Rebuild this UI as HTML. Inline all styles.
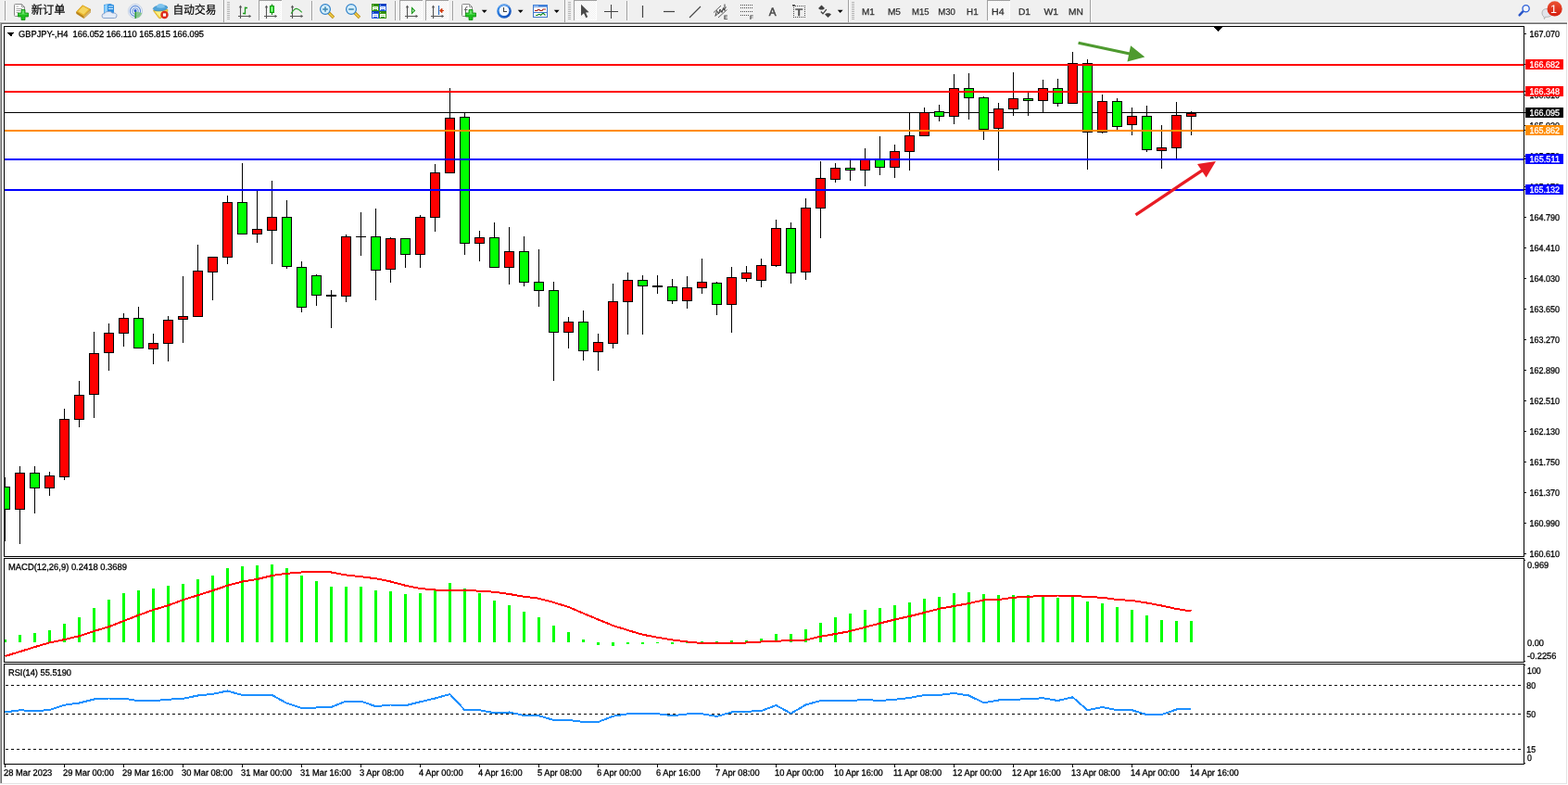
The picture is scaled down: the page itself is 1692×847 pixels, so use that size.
<!DOCTYPE html>
<html lang="zh"><head><meta charset="utf-8"><title>GBPJPY-,H4</title>
<style>
html,body{margin:0;padding:0;background:#fff;overflow:hidden}
svg{display:block;font-family:"Liberation Sans","Noto Sans CJK SC",sans-serif;text-rendering:geometricPrecision}
</style></head><body>
<svg width="1692" height="847" viewBox="0 0 1692 847" shape-rendering="crispEdges">
<defs><pattern id="chk" width="2" height="2" patternUnits="userSpaceOnUse"><rect width="2" height="2" fill="#f0f0f0"/><rect width="1" height="1" fill="#fff"/><rect x="1" y="1" width="1" height="1" fill="#fff"/></pattern><clipPath id="cm"><rect x="5" y="29" width="1639" height="571"/></clipPath></defs>
<rect x="0" y="0" width="1692" height="847" fill="#fff"/>
<rect x="0" y="0" width="1692" height="24" fill="#f0f0f0"/>
<rect x="0" y="23" width="1692" height="1" fill="#f6f6f6"/>
<rect x="0" y="24" width="1691" height="1" fill="#a8a8a8"/>
<rect x="0" y="25" width="1691" height="1" fill="#6c6c6c"/>
<rect x="0" y="25" width="1" height="821" fill="#a8a8a8"/>
<rect x="1" y="26" width="1" height="820" fill="#6c6c6c"/>
<rect x="1690" y="26" width="1" height="820" fill="#e3e3e3"/>
<rect x="0" y="845" width="1691" height="1" fill="#e3e3e3"/>
<rect x="4.5" y="28.5" width="1640" height="572" fill="#fff" stroke="#000" stroke-width="1"/>
<rect x="4.5" y="602.5" width="1640" height="112" fill="#fff" stroke="#000" stroke-width="1"/>
<rect x="4.5" y="716.5" width="1640" height="108" fill="#fff" stroke="#000" stroke-width="1"/>
<g clip-path="url(#cm)">
<rect x="5" y="121" width="1639" height="1" fill="#000"/>
<rect x="5" y="515" width="1" height="69" fill="#000"/>
<rect x="0" y="525" width="11" height="25" fill="#000"/>
<rect x="1" y="526" width="9" height="23" fill="#00ff00"/>
<rect x="21" y="503" width="1" height="84" fill="#000"/>
<rect x="16" y="510" width="11" height="40" fill="#000"/>
<rect x="17" y="511" width="9" height="38" fill="#ff0000"/>
<rect x="37" y="503" width="1" height="51" fill="#000"/>
<rect x="32" y="510" width="11" height="17" fill="#000"/>
<rect x="33" y="511" width="9" height="15" fill="#00ff00"/>
<rect x="53" y="509" width="1" height="26" fill="#000"/>
<rect x="48" y="513" width="11" height="14" fill="#000"/>
<rect x="49" y="514" width="9" height="12" fill="#ff0000"/>
<rect x="69" y="441" width="1" height="77" fill="#000"/>
<rect x="64" y="452" width="11" height="63" fill="#000"/>
<rect x="65" y="453" width="9" height="61" fill="#ff0000"/>
<rect x="85" y="411" width="1" height="50" fill="#000"/>
<rect x="80" y="426" width="11" height="27" fill="#000"/>
<rect x="81" y="427" width="9" height="25" fill="#ff0000"/>
<rect x="101" y="358" width="1" height="93" fill="#000"/>
<rect x="96" y="381" width="11" height="45" fill="#000"/>
<rect x="97" y="382" width="9" height="43" fill="#ff0000"/>
<rect x="117" y="349" width="1" height="51" fill="#000"/>
<rect x="112" y="359" width="11" height="22" fill="#000"/>
<rect x="113" y="360" width="9" height="20" fill="#ff0000"/>
<rect x="133" y="338" width="1" height="36" fill="#000"/>
<rect x="128" y="343" width="11" height="17" fill="#000"/>
<rect x="129" y="344" width="9" height="15" fill="#ff0000"/>
<rect x="149" y="331" width="1" height="45" fill="#000"/>
<rect x="144" y="343" width="11" height="33" fill="#000"/>
<rect x="145" y="344" width="9" height="31" fill="#00ff00"/>
<rect x="165" y="360" width="1" height="33" fill="#000"/>
<rect x="160" y="370" width="11" height="7" fill="#000"/>
<rect x="161" y="371" width="9" height="5" fill="#ff0000"/>
<rect x="181" y="341" width="1" height="49" fill="#000"/>
<rect x="176" y="345" width="11" height="26" fill="#000"/>
<rect x="177" y="346" width="9" height="24" fill="#ff0000"/>
<rect x="197" y="298" width="1" height="72" fill="#000"/>
<rect x="192" y="341" width="11" height="4" fill="#000"/>
<rect x="193" y="342" width="9" height="2" fill="#ff0000"/>
<rect x="213" y="264" width="1" height="78" fill="#000"/>
<rect x="208" y="292" width="11" height="50" fill="#000"/>
<rect x="209" y="293" width="9" height="48" fill="#ff0000"/>
<rect x="229" y="277" width="1" height="47" fill="#000"/>
<rect x="224" y="277" width="11" height="17" fill="#000"/>
<rect x="225" y="278" width="9" height="15" fill="#ff0000"/>
<rect x="245" y="211" width="1" height="74" fill="#000"/>
<rect x="240" y="218" width="11" height="60" fill="#000"/>
<rect x="241" y="219" width="9" height="58" fill="#ff0000"/>
<rect x="261" y="176" width="1" height="77" fill="#000"/>
<rect x="256" y="218" width="11" height="35" fill="#000"/>
<rect x="257" y="219" width="9" height="33" fill="#00ff00"/>
<rect x="277" y="205" width="1" height="57" fill="#000"/>
<rect x="272" y="247" width="11" height="6" fill="#000"/>
<rect x="273" y="248" width="9" height="4" fill="#ff0000"/>
<rect x="293" y="195" width="1" height="90" fill="#000"/>
<rect x="288" y="234" width="11" height="15" fill="#000"/>
<rect x="289" y="235" width="9" height="13" fill="#ff0000"/>
<rect x="309" y="216" width="1" height="74" fill="#000"/>
<rect x="304" y="234" width="11" height="54" fill="#000"/>
<rect x="305" y="235" width="9" height="52" fill="#00ff00"/>
<rect x="325" y="282" width="1" height="55" fill="#000"/>
<rect x="320" y="288" width="11" height="44" fill="#000"/>
<rect x="321" y="289" width="9" height="42" fill="#00ff00"/>
<rect x="341" y="296" width="1" height="34" fill="#000"/>
<rect x="336" y="297" width="11" height="22" fill="#000"/>
<rect x="337" y="298" width="9" height="20" fill="#00ff00"/>
<rect x="357" y="313" width="1" height="41" fill="#000"/>
<rect x="352" y="318" width="11" height="2" fill="#000"/>
<rect x="373" y="253" width="1" height="73" fill="#000"/>
<rect x="368" y="255" width="11" height="65" fill="#000"/>
<rect x="369" y="256" width="9" height="63" fill="#ff0000"/>
<rect x="389" y="229" width="1" height="47" fill="#000"/>
<rect x="384" y="255" width="11" height="1" fill="#000"/>
<rect x="405" y="225" width="1" height="99" fill="#000"/>
<rect x="400" y="255" width="11" height="37" fill="#000"/>
<rect x="401" y="256" width="9" height="35" fill="#00ff00"/>
<rect x="421" y="256" width="1" height="49" fill="#000"/>
<rect x="416" y="257" width="11" height="34" fill="#000"/>
<rect x="417" y="258" width="9" height="32" fill="#ff0000"/>
<rect x="437" y="257" width="1" height="32" fill="#000"/>
<rect x="432" y="257" width="11" height="18" fill="#000"/>
<rect x="433" y="258" width="9" height="16" fill="#00ff00"/>
<rect x="453" y="232" width="1" height="57" fill="#000"/>
<rect x="448" y="234" width="11" height="41" fill="#000"/>
<rect x="449" y="235" width="9" height="39" fill="#ff0000"/>
<rect x="469" y="177" width="1" height="73" fill="#000"/>
<rect x="464" y="186" width="11" height="49" fill="#000"/>
<rect x="465" y="187" width="9" height="47" fill="#ff0000"/>
<rect x="485" y="95" width="1" height="92" fill="#000"/>
<rect x="480" y="127" width="11" height="60" fill="#000"/>
<rect x="481" y="128" width="9" height="58" fill="#ff0000"/>
<rect x="501" y="121" width="1" height="154" fill="#000"/>
<rect x="496" y="126" width="11" height="137" fill="#000"/>
<rect x="497" y="127" width="9" height="135" fill="#00ff00"/>
<rect x="517" y="249" width="1" height="33" fill="#000"/>
<rect x="512" y="256" width="11" height="7" fill="#000"/>
<rect x="513" y="257" width="9" height="5" fill="#ff0000"/>
<rect x="533" y="240" width="1" height="49" fill="#000"/>
<rect x="528" y="256" width="11" height="33" fill="#000"/>
<rect x="529" y="257" width="9" height="31" fill="#00ff00"/>
<rect x="549" y="245" width="1" height="62" fill="#000"/>
<rect x="544" y="271" width="11" height="18" fill="#000"/>
<rect x="545" y="272" width="9" height="16" fill="#ff0000"/>
<rect x="565" y="255" width="1" height="54" fill="#000"/>
<rect x="560" y="271" width="11" height="34" fill="#000"/>
<rect x="561" y="272" width="9" height="32" fill="#00ff00"/>
<rect x="581" y="269" width="1" height="62" fill="#000"/>
<rect x="576" y="304" width="11" height="10" fill="#000"/>
<rect x="577" y="305" width="9" height="8" fill="#00ff00"/>
<rect x="597" y="304" width="1" height="107" fill="#000"/>
<rect x="592" y="313" width="11" height="46" fill="#000"/>
<rect x="593" y="314" width="9" height="44" fill="#00ff00"/>
<rect x="613" y="342" width="1" height="34" fill="#000"/>
<rect x="608" y="347" width="11" height="12" fill="#000"/>
<rect x="609" y="348" width="9" height="10" fill="#ff0000"/>
<rect x="629" y="335" width="1" height="54" fill="#000"/>
<rect x="624" y="347" width="11" height="32" fill="#000"/>
<rect x="625" y="348" width="9" height="30" fill="#00ff00"/>
<rect x="645" y="360" width="1" height="40" fill="#000"/>
<rect x="640" y="369" width="11" height="11" fill="#000"/>
<rect x="641" y="370" width="9" height="9" fill="#ff0000"/>
<rect x="661" y="306" width="1" height="70" fill="#000"/>
<rect x="656" y="325" width="11" height="46" fill="#000"/>
<rect x="657" y="326" width="9" height="44" fill="#ff0000"/>
<rect x="677" y="294" width="1" height="67" fill="#000"/>
<rect x="672" y="302" width="11" height="24" fill="#000"/>
<rect x="673" y="303" width="9" height="22" fill="#ff0000"/>
<rect x="693" y="297" width="1" height="64" fill="#000"/>
<rect x="688" y="302" width="11" height="7" fill="#000"/>
<rect x="689" y="303" width="9" height="5" fill="#00ff00"/>
<rect x="709" y="297" width="1" height="20" fill="#000"/>
<rect x="704" y="308" width="11" height="2" fill="#000"/>
<rect x="725" y="301" width="1" height="27" fill="#000"/>
<rect x="720" y="309" width="11" height="16" fill="#000"/>
<rect x="721" y="310" width="9" height="14" fill="#00ff00"/>
<rect x="741" y="298" width="1" height="35" fill="#000"/>
<rect x="736" y="310" width="11" height="15" fill="#000"/>
<rect x="737" y="311" width="9" height="13" fill="#ff0000"/>
<rect x="757" y="279" width="1" height="38" fill="#000"/>
<rect x="752" y="304" width="11" height="7" fill="#000"/>
<rect x="753" y="305" width="9" height="5" fill="#ff0000"/>
<rect x="773" y="304" width="1" height="36" fill="#000"/>
<rect x="768" y="305" width="11" height="24" fill="#000"/>
<rect x="769" y="306" width="9" height="22" fill="#00ff00"/>
<rect x="789" y="288" width="1" height="71" fill="#000"/>
<rect x="784" y="299" width="11" height="30" fill="#000"/>
<rect x="785" y="300" width="9" height="28" fill="#ff0000"/>
<rect x="805" y="287" width="1" height="17" fill="#000"/>
<rect x="800" y="294" width="11" height="7" fill="#000"/>
<rect x="801" y="295" width="9" height="5" fill="#ff0000"/>
<rect x="821" y="279" width="1" height="31" fill="#000"/>
<rect x="816" y="286" width="11" height="17" fill="#000"/>
<rect x="817" y="287" width="9" height="15" fill="#ff0000"/>
<rect x="837" y="237" width="1" height="51" fill="#000"/>
<rect x="832" y="246" width="11" height="41" fill="#000"/>
<rect x="833" y="247" width="9" height="39" fill="#ff0000"/>
<rect x="853" y="240" width="1" height="66" fill="#000"/>
<rect x="848" y="246" width="11" height="49" fill="#000"/>
<rect x="849" y="247" width="9" height="47" fill="#00ff00"/>
<rect x="869" y="214" width="1" height="88" fill="#000"/>
<rect x="864" y="224" width="11" height="70" fill="#000"/>
<rect x="865" y="225" width="9" height="68" fill="#ff0000"/>
<rect x="885" y="174" width="1" height="83" fill="#000"/>
<rect x="880" y="192" width="11" height="33" fill="#000"/>
<rect x="881" y="193" width="9" height="31" fill="#ff0000"/>
<rect x="901" y="176" width="1" height="21" fill="#000"/>
<rect x="896" y="181" width="11" height="13" fill="#000"/>
<rect x="897" y="182" width="9" height="11" fill="#ff0000"/>
<rect x="917" y="173" width="1" height="22" fill="#000"/>
<rect x="912" y="181" width="11" height="3" fill="#000"/>
<rect x="913" y="182" width="9" height="1" fill="#00ff00"/>
<rect x="933" y="160" width="1" height="41" fill="#000"/>
<rect x="928" y="172" width="11" height="12" fill="#000"/>
<rect x="929" y="173" width="9" height="10" fill="#ff0000"/>
<rect x="949" y="147" width="1" height="42" fill="#000"/>
<rect x="944" y="172" width="11" height="9" fill="#000"/>
<rect x="945" y="173" width="9" height="7" fill="#00ff00"/>
<rect x="965" y="156" width="1" height="36" fill="#000"/>
<rect x="960" y="163" width="11" height="18" fill="#000"/>
<rect x="961" y="164" width="9" height="16" fill="#ff0000"/>
<rect x="981" y="121" width="1" height="63" fill="#000"/>
<rect x="976" y="146" width="11" height="18" fill="#000"/>
<rect x="977" y="147" width="9" height="16" fill="#ff0000"/>
<rect x="997" y="116" width="1" height="31" fill="#000"/>
<rect x="992" y="121" width="11" height="26" fill="#000"/>
<rect x="993" y="122" width="9" height="24" fill="#ff0000"/>
<rect x="1013" y="113" width="1" height="18" fill="#000"/>
<rect x="1008" y="120" width="11" height="6" fill="#000"/>
<rect x="1009" y="121" width="9" height="4" fill="#00ff00"/>
<rect x="1029" y="80" width="1" height="54" fill="#000"/>
<rect x="1024" y="95" width="11" height="31" fill="#000"/>
<rect x="1025" y="96" width="9" height="29" fill="#ff0000"/>
<rect x="1045" y="79" width="1" height="50" fill="#000"/>
<rect x="1040" y="95" width="11" height="11" fill="#000"/>
<rect x="1041" y="96" width="9" height="9" fill="#00ff00"/>
<rect x="1061" y="104" width="1" height="47" fill="#000"/>
<rect x="1056" y="105" width="11" height="35" fill="#000"/>
<rect x="1057" y="106" width="9" height="33" fill="#00ff00"/>
<rect x="1077" y="111" width="1" height="73" fill="#000"/>
<rect x="1072" y="117" width="11" height="22" fill="#000"/>
<rect x="1073" y="118" width="9" height="20" fill="#ff0000"/>
<rect x="1093" y="78" width="1" height="47" fill="#000"/>
<rect x="1088" y="106" width="11" height="12" fill="#000"/>
<rect x="1089" y="107" width="9" height="10" fill="#ff0000"/>
<rect x="1109" y="100" width="1" height="25" fill="#000"/>
<rect x="1104" y="106" width="11" height="3" fill="#000"/>
<rect x="1105" y="107" width="9" height="1" fill="#00ff00"/>
<rect x="1125" y="86" width="1" height="36" fill="#000"/>
<rect x="1120" y="95" width="11" height="14" fill="#000"/>
<rect x="1121" y="96" width="9" height="12" fill="#ff0000"/>
<rect x="1141" y="85" width="1" height="30" fill="#000"/>
<rect x="1136" y="95" width="11" height="17" fill="#000"/>
<rect x="1137" y="96" width="9" height="15" fill="#00ff00"/>
<rect x="1157" y="56" width="1" height="56" fill="#000"/>
<rect x="1152" y="68" width="11" height="44" fill="#000"/>
<rect x="1153" y="69" width="9" height="42" fill="#ff0000"/>
<rect x="1173" y="64" width="1" height="119" fill="#000"/>
<rect x="1168" y="68" width="11" height="75" fill="#000"/>
<rect x="1169" y="69" width="9" height="73" fill="#00ff00"/>
<rect x="1189" y="102" width="1" height="42" fill="#000"/>
<rect x="1184" y="109" width="11" height="34" fill="#000"/>
<rect x="1185" y="110" width="9" height="32" fill="#ff0000"/>
<rect x="1205" y="106" width="1" height="34" fill="#000"/>
<rect x="1200" y="109" width="11" height="28" fill="#000"/>
<rect x="1201" y="110" width="9" height="26" fill="#00ff00"/>
<rect x="1221" y="116" width="1" height="30" fill="#000"/>
<rect x="1216" y="125" width="11" height="10" fill="#000"/>
<rect x="1217" y="126" width="9" height="8" fill="#ff0000"/>
<rect x="1237" y="114" width="1" height="50" fill="#000"/>
<rect x="1232" y="125" width="11" height="37" fill="#000"/>
<rect x="1233" y="126" width="9" height="35" fill="#00ff00"/>
<rect x="1253" y="135" width="1" height="47" fill="#000"/>
<rect x="1248" y="159" width="11" height="4" fill="#000"/>
<rect x="1249" y="160" width="9" height="2" fill="#ff0000"/>
<rect x="1269" y="110" width="1" height="62" fill="#000"/>
<rect x="1264" y="124" width="11" height="36" fill="#000"/>
<rect x="1265" y="125" width="9" height="34" fill="#ff0000"/>
<rect x="1285" y="120" width="1" height="26" fill="#000"/>
<rect x="1280" y="122" width="11" height="4" fill="#000"/>
<rect x="1281" y="123" width="9" height="2" fill="#ff0000"/>
</g>
<rect x="5" y="69" width="1639" height="2" fill="#ff0000"/>
<rect x="5" y="98" width="1639" height="2" fill="#ff0000"/>
<rect x="5" y="140" width="1639" height="2" fill="#ff8c00"/>
<rect x="5" y="171" width="1639" height="2" fill="#0000ff"/>
<rect x="5" y="204" width="1639" height="2" fill="#0000ff"/>
<line x1="1163.6" y1="46.3" x2="1220.2" y2="58.2" stroke="#4e9a2f" stroke-width="3.1" shape-rendering="geometricPrecision"/>
<polygon points="1235.3,61.4 1216.5,66.4 1220.1,49.2" fill="#4e9a2f" shape-rendering="geometricPrecision"/>
<line x1="1225.5" y1="231.8" x2="1298.4" y2="183.1" stroke="#e81c24" stroke-width="3.3" shape-rendering="geometricPrecision"/>
<polygon points="1312.0,174.0 1301.6,191.4 1292.0,176.9" fill="#e81c24" shape-rendering="geometricPrecision"/>
<polygon points="1309,29 1319,29 1314,34" fill="#000"/>
<polygon points="8,35 15.5,35 11.75,39.5" fill="#000"/>
<text x="20" y="40" font-size="9.8" fill="#000" stroke="#000" stroke-width="0.3" textLength="200.0" lengthAdjust="spacingAndGlyphs">GBPJPY-,H4&#160; 166.052 166.110 165.815 166.095</text>
<rect x="1645" y="36" width="2" height="1" fill="#000"/>
<text x="1650.5" y="40" font-size="9.8" fill="#000" stroke="#000" stroke-width="0.3" textLength="32.5" lengthAdjust="spacingAndGlyphs">167.070</text>
<rect x="1645" y="69" width="2" height="1" fill="#000"/>
<text x="1650.5" y="73" font-size="9.8" fill="#000" stroke="#000" stroke-width="0.3" textLength="32.5" lengthAdjust="spacingAndGlyphs">166.690</text>
<rect x="1645" y="102" width="2" height="1" fill="#000"/>
<text x="1650.5" y="106" font-size="9.8" fill="#000" stroke="#000" stroke-width="0.3" textLength="32.5" lengthAdjust="spacingAndGlyphs">166.310</text>
<rect x="1645" y="135" width="2" height="1" fill="#000"/>
<text x="1650.5" y="139" font-size="9.8" fill="#000" stroke="#000" stroke-width="0.3" textLength="32.5" lengthAdjust="spacingAndGlyphs">165.930</text>
<rect x="1645" y="168" width="2" height="1" fill="#000"/>
<text x="1650.5" y="172" font-size="9.8" fill="#000" stroke="#000" stroke-width="0.3" textLength="32.5" lengthAdjust="spacingAndGlyphs">165.550</text>
<rect x="1645" y="201" width="2" height="1" fill="#000"/>
<text x="1650.5" y="205" font-size="9.8" fill="#000" stroke="#000" stroke-width="0.3" textLength="32.5" lengthAdjust="spacingAndGlyphs">165.170</text>
<rect x="1645" y="234" width="2" height="1" fill="#000"/>
<text x="1650.5" y="238" font-size="9.8" fill="#000" stroke="#000" stroke-width="0.3" textLength="32.5" lengthAdjust="spacingAndGlyphs">164.790</text>
<rect x="1645" y="267" width="2" height="1" fill="#000"/>
<text x="1650.5" y="271" font-size="9.8" fill="#000" stroke="#000" stroke-width="0.3" textLength="32.5" lengthAdjust="spacingAndGlyphs">164.410</text>
<rect x="1645" y="300" width="2" height="1" fill="#000"/>
<text x="1650.5" y="304" font-size="9.8" fill="#000" stroke="#000" stroke-width="0.3" textLength="32.5" lengthAdjust="spacingAndGlyphs">164.030</text>
<rect x="1645" y="333" width="2" height="1" fill="#000"/>
<text x="1650.5" y="337" font-size="9.8" fill="#000" stroke="#000" stroke-width="0.3" textLength="32.5" lengthAdjust="spacingAndGlyphs">163.650</text>
<rect x="1645" y="366" width="2" height="1" fill="#000"/>
<text x="1650.5" y="370" font-size="9.8" fill="#000" stroke="#000" stroke-width="0.3" textLength="32.5" lengthAdjust="spacingAndGlyphs">163.270</text>
<rect x="1645" y="399" width="2" height="1" fill="#000"/>
<text x="1650.5" y="403" font-size="9.8" fill="#000" stroke="#000" stroke-width="0.3" textLength="32.5" lengthAdjust="spacingAndGlyphs">162.890</text>
<rect x="1645" y="432" width="2" height="1" fill="#000"/>
<text x="1650.5" y="436" font-size="9.8" fill="#000" stroke="#000" stroke-width="0.3" textLength="32.5" lengthAdjust="spacingAndGlyphs">162.510</text>
<rect x="1645" y="465" width="2" height="1" fill="#000"/>
<text x="1650.5" y="469" font-size="9.8" fill="#000" stroke="#000" stroke-width="0.3" textLength="32.5" lengthAdjust="spacingAndGlyphs">162.130</text>
<rect x="1645" y="498" width="2" height="1" fill="#000"/>
<text x="1650.5" y="502" font-size="9.8" fill="#000" stroke="#000" stroke-width="0.3" textLength="32.5" lengthAdjust="spacingAndGlyphs">161.750</text>
<rect x="1645" y="531" width="2" height="1" fill="#000"/>
<text x="1650.5" y="535" font-size="9.8" fill="#000" stroke="#000" stroke-width="0.3" textLength="32.5" lengthAdjust="spacingAndGlyphs">161.370</text>
<rect x="1645" y="564" width="2" height="1" fill="#000"/>
<text x="1650.5" y="568" font-size="9.8" fill="#000" stroke="#000" stroke-width="0.3" textLength="32.5" lengthAdjust="spacingAndGlyphs">160.990</text>
<rect x="1645" y="597" width="2" height="1" fill="#000"/>
<text x="1650.5" y="601" font-size="9.8" fill="#000" stroke="#000" stroke-width="0.3" textLength="32.5" lengthAdjust="spacingAndGlyphs">160.610</text>
<rect x="1645" y="69" width="1" height="1" fill="#000"/>
<rect x="1646" y="64" width="41" height="11" fill="#ff0000"/>
<text x="1650.5" y="73" font-size="9.8" fill="#fff" stroke="#fff" stroke-width="0.3" textLength="32.5" lengthAdjust="spacingAndGlyphs">166.682</text>
<rect x="1645" y="98" width="1" height="1" fill="#000"/>
<rect x="1646" y="93" width="41" height="11" fill="#ff0000"/>
<text x="1650.5" y="102" font-size="9.8" fill="#fff" stroke="#fff" stroke-width="0.3" textLength="32.5" lengthAdjust="spacingAndGlyphs">166.348</text>
<rect x="1645" y="121" width="1" height="1" fill="#000"/>
<rect x="1646" y="116" width="41" height="11" fill="#000"/>
<text x="1650.5" y="125" font-size="9.8" fill="#fff" stroke="#fff" stroke-width="0.3" textLength="32.5" lengthAdjust="spacingAndGlyphs">166.095</text>
<rect x="1645" y="140" width="1" height="1" fill="#000"/>
<rect x="1646" y="135" width="41" height="11" fill="#ff8c00"/>
<text x="1650.5" y="144" font-size="9.8" fill="#fff" stroke="#fff" stroke-width="0.3" textLength="32.5" lengthAdjust="spacingAndGlyphs">165.862</text>
<rect x="1645" y="171" width="1" height="1" fill="#000"/>
<rect x="1646" y="166" width="41" height="11" fill="#0000ff"/>
<text x="1650.5" y="175" font-size="9.8" fill="#fff" stroke="#fff" stroke-width="0.3" textLength="32.5" lengthAdjust="spacingAndGlyphs">165.511</text>
<rect x="1645" y="204" width="1" height="1" fill="#000"/>
<rect x="1646" y="199" width="41" height="11" fill="#0000ff"/>
<text x="1650.5" y="208" font-size="9.8" fill="#fff" stroke="#fff" stroke-width="0.3" textLength="32.5" lengthAdjust="spacingAndGlyphs">165.132</text>
<rect x="5" y="690" width="2" height="3" fill="#00ff00"/>
<rect x="20" y="685" width="3" height="8" fill="#00ff00"/>
<rect x="36" y="683" width="3" height="10" fill="#00ff00"/>
<rect x="52" y="680" width="3" height="13" fill="#00ff00"/>
<rect x="68" y="673" width="3" height="20" fill="#00ff00"/>
<rect x="84" y="666" width="3" height="27" fill="#00ff00"/>
<rect x="100" y="656" width="3" height="37" fill="#00ff00"/>
<rect x="116" y="647" width="3" height="46" fill="#00ff00"/>
<rect x="132" y="640" width="3" height="53" fill="#00ff00"/>
<rect x="148" y="637" width="3" height="56" fill="#00ff00"/>
<rect x="164" y="635" width="3" height="58" fill="#00ff00"/>
<rect x="180" y="632" width="3" height="61" fill="#00ff00"/>
<rect x="196" y="630" width="3" height="63" fill="#00ff00"/>
<rect x="212" y="625" width="3" height="68" fill="#00ff00"/>
<rect x="228" y="621" width="3" height="72" fill="#00ff00"/>
<rect x="244" y="613" width="3" height="80" fill="#00ff00"/>
<rect x="260" y="611" width="3" height="82" fill="#00ff00"/>
<rect x="276" y="610" width="3" height="83" fill="#00ff00"/>
<rect x="292" y="609" width="3" height="84" fill="#00ff00"/>
<rect x="308" y="613" width="3" height="80" fill="#00ff00"/>
<rect x="324" y="621" width="3" height="72" fill="#00ff00"/>
<rect x="340" y="627" width="3" height="66" fill="#00ff00"/>
<rect x="356" y="633" width="3" height="60" fill="#00ff00"/>
<rect x="372" y="633" width="3" height="60" fill="#00ff00"/>
<rect x="388" y="633" width="3" height="60" fill="#00ff00"/>
<rect x="404" y="637" width="3" height="56" fill="#00ff00"/>
<rect x="420" y="638" width="3" height="55" fill="#00ff00"/>
<rect x="436" y="641" width="3" height="52" fill="#00ff00"/>
<rect x="452" y="640" width="3" height="53" fill="#00ff00"/>
<rect x="468" y="636" width="3" height="57" fill="#00ff00"/>
<rect x="484" y="629" width="3" height="64" fill="#00ff00"/>
<rect x="500" y="635" width="3" height="58" fill="#00ff00"/>
<rect x="516" y="640" width="3" height="53" fill="#00ff00"/>
<rect x="532" y="648" width="3" height="45" fill="#00ff00"/>
<rect x="548" y="653" width="3" height="40" fill="#00ff00"/>
<rect x="564" y="660" width="3" height="33" fill="#00ff00"/>
<rect x="580" y="666" width="3" height="27" fill="#00ff00"/>
<rect x="596" y="675" width="3" height="18" fill="#00ff00"/>
<rect x="612" y="682" width="3" height="11" fill="#00ff00"/>
<rect x="628" y="690" width="3" height="3" fill="#00ff00"/>
<rect x="644" y="693" width="3" height="3" fill="#00ff00"/>
<rect x="660" y="693" width="3" height="4" fill="#00ff00"/>
<rect x="676" y="693" width="3" height="2" fill="#00ff00"/>
<rect x="692" y="693" width="3" height="2" fill="#00ff00"/>
<rect x="708" y="693" width="3" height="1" fill="#00ff00"/>
<rect x="724" y="693" width="3" height="2" fill="#00ff00"/>
<rect x="740" y="693" width="3" height="1" fill="#00ff00"/>
<rect x="756" y="692" width="3" height="1" fill="#00ff00"/>
<rect x="772" y="692" width="3" height="1" fill="#00ff00"/>
<rect x="788" y="691" width="3" height="2" fill="#00ff00"/>
<rect x="804" y="691" width="3" height="2" fill="#00ff00"/>
<rect x="820" y="689" width="3" height="4" fill="#00ff00"/>
<rect x="836" y="684" width="3" height="9" fill="#00ff00"/>
<rect x="852" y="684" width="3" height="9" fill="#00ff00"/>
<rect x="868" y="679" width="3" height="14" fill="#00ff00"/>
<rect x="884" y="672" width="3" height="21" fill="#00ff00"/>
<rect x="900" y="666" width="3" height="27" fill="#00ff00"/>
<rect x="916" y="662" width="3" height="31" fill="#00ff00"/>
<rect x="932" y="658" width="3" height="35" fill="#00ff00"/>
<rect x="948" y="656" width="3" height="37" fill="#00ff00"/>
<rect x="964" y="653" width="3" height="40" fill="#00ff00"/>
<rect x="980" y="650" width="3" height="43" fill="#00ff00"/>
<rect x="996" y="646" width="3" height="47" fill="#00ff00"/>
<rect x="1012" y="644" width="3" height="49" fill="#00ff00"/>
<rect x="1028" y="640" width="3" height="53" fill="#00ff00"/>
<rect x="1044" y="639" width="3" height="54" fill="#00ff00"/>
<rect x="1060" y="641" width="3" height="52" fill="#00ff00"/>
<rect x="1076" y="642" width="3" height="51" fill="#00ff00"/>
<rect x="1092" y="642" width="3" height="51" fill="#00ff00"/>
<rect x="1108" y="642" width="3" height="51" fill="#00ff00"/>
<rect x="1124" y="642" width="3" height="51" fill="#00ff00"/>
<rect x="1140" y="645" width="3" height="48" fill="#00ff00"/>
<rect x="1156" y="642" width="3" height="51" fill="#00ff00"/>
<rect x="1172" y="649" width="3" height="44" fill="#00ff00"/>
<rect x="1188" y="651" width="3" height="42" fill="#00ff00"/>
<rect x="1204" y="655" width="3" height="38" fill="#00ff00"/>
<rect x="1220" y="658" width="3" height="35" fill="#00ff00"/>
<rect x="1236" y="664" width="3" height="29" fill="#00ff00"/>
<rect x="1252" y="669" width="3" height="24" fill="#00ff00"/>
<rect x="1268" y="670" width="3" height="23" fill="#00ff00"/>
<rect x="1284" y="670" width="3" height="23" fill="#00ff00"/>
<polyline points="5.5,708.00 21.5,703.10 37.5,698.10 53.5,693.40 69.5,690.10 85.5,686.25 101.5,681.00 117.5,676.25 133.5,670.00 149.5,663.75 165.5,658.00 181.5,653.25 197.5,647.25 213.5,642.25 229.5,637.25 245.5,631.75 261.5,627.50 277.5,625.00 293.5,621.00 309.5,618.75 325.5,617.50 341.5,617.00 357.5,617.50 373.5,620.50 389.5,622.25 405.5,624.25 421.5,627.50 437.5,631.75 453.5,635.00 469.5,636.50 485.5,636.50 501.5,636.75 517.5,637.75 533.5,638.75 549.5,641.00 565.5,643.75 581.5,645.75 597.5,650.00 613.5,655.00 629.5,661.75 645.5,668.50 661.5,675.00 677.5,680.00 693.5,684.75 709.5,687.75 725.5,690.50 741.5,692.50 757.5,694.00 773.5,694.00 789.5,694.00 805.5,693.50 821.5,692.50 837.5,691.75 853.5,691.00 869.5,690.50 885.5,686.75 901.5,684.00 917.5,681.00 933.5,676.75 949.5,672.50 965.5,668.50 981.5,665.00 997.5,661.00 1013.5,656.75 1029.5,654.00 1045.5,651.00 1061.5,647.50 1077.5,647.00 1093.5,644.75 1109.5,643.75 1125.5,643.00 1141.5,642.50 1157.5,642.75 1173.5,644.00 1189.5,644.75 1205.5,647.00 1221.5,648.00 1237.5,650.50 1253.5,653.50 1269.5,657.00 1285.5,659.50" fill="none" stroke="#ff0000" stroke-width="2" stroke-linejoin="round"/>
<text x="9" y="615" font-size="9.8" fill="#000" stroke="#000" stroke-width="0.3" textLength="128.0" lengthAdjust="spacingAndGlyphs">MACD(12,26,9) 0.2418 0.3689</text>
<rect x="1645" y="604" width="1" height="1" fill="#000"/>
<rect x="1645" y="713" width="1" height="1" fill="#000"/>
<rect x="1645" y="717" width="1" height="1" fill="#000"/>
<rect x="1645" y="823" width="1" height="1" fill="#000"/>
<text x="1648" y="613" font-size="9.8" fill="#000" stroke="#000" stroke-width="0.3" textLength="23.2" lengthAdjust="spacingAndGlyphs">0.969</text>
<text x="1648" y="697" font-size="9.8" fill="#000" stroke="#000" stroke-width="0.3" textLength="18.0" lengthAdjust="spacingAndGlyphs">0.00</text>
<text x="1648" y="711" font-size="9.8" fill="#000" stroke="#000" stroke-width="0.3" textLength="31.4" lengthAdjust="spacingAndGlyphs">-0.2256</text>
<line x1="6" y1="739.5" x2="1644" y2="739.5" stroke="#000" stroke-width="1" stroke-dasharray="3 3"/>
<line x1="6" y1="770.5" x2="1644" y2="770.5" stroke="#000" stroke-width="1" stroke-dasharray="3 3"/>
<line x1="6" y1="808.5" x2="1644" y2="808.5" stroke="#000" stroke-width="1" stroke-dasharray="3 3"/>
<polyline points="5.5,768.50 21.5,766.25 37.5,767.25 53.5,766.00 69.5,760.75 85.5,758.50 101.5,754.50 117.5,753.50 133.5,753.50 149.5,756.25 165.5,756.25 181.5,754.75 197.5,753.75 213.5,750.50 229.5,748.75 245.5,745.50 261.5,750.00 277.5,750.00 293.5,750.00 309.5,758.75 325.5,764.00 341.5,763.50 357.5,763.00 373.5,756.50 389.5,756.50 405.5,762.25 421.5,760.50 437.5,761.25 453.5,757.25 469.5,753.50 485.5,749.00 501.5,766.25 517.5,766.25 533.5,769.25 549.5,768.50 565.5,772.00 581.5,772.25 597.5,777.00 613.5,777.00 629.5,779.00 645.5,779.00 661.5,772.75 677.5,770.25 693.5,770.25 709.5,770.25 725.5,772.25 741.5,770.50 757.5,770.25 773.5,773.00 789.5,768.50 805.5,767.75 821.5,767.00 837.5,761.00 853.5,769.75 869.5,760.50 885.5,756.00 901.5,756.00 917.5,756.00 933.5,755.00 949.5,756.00 965.5,754.75 981.5,753.00 997.5,750.00 1013.5,750.00 1029.5,748.00 1045.5,750.50 1061.5,758.25 1077.5,755.50 1093.5,754.75 1109.5,754.25 1125.5,753.25 1141.5,756.00 1157.5,752.25 1173.5,766.25 1189.5,763.00 1205.5,766.25 1221.5,766.25 1237.5,771.10 1253.5,771.10 1269.5,765.50 1285.5,765.30" fill="none" stroke="#1e90ff" stroke-width="2" stroke-linejoin="round"/>
<text x="9" y="729" font-size="9.8" fill="#000" stroke="#000" stroke-width="0.3" textLength="68.0" lengthAdjust="spacingAndGlyphs">RSI(14) 55.5190</text>
<text x="1648" y="727" font-size="9.8" fill="#000" stroke="#000" stroke-width="0.3" textLength="14.7" lengthAdjust="spacingAndGlyphs">100</text>
<text x="1647.3" y="743" font-size="9.8" fill="#000" stroke="#000" stroke-width="0.3" textLength="9.8" lengthAdjust="spacingAndGlyphs">80</text>
<text x="1647.3" y="774" font-size="9.8" fill="#000" stroke="#000" stroke-width="0.3" textLength="9.8" lengthAdjust="spacingAndGlyphs">50</text>
<text x="1647.3" y="812" font-size="9.8" fill="#000" stroke="#000" stroke-width="0.3" textLength="9.8" lengthAdjust="spacingAndGlyphs">15</text>
<text x="1648" y="821" font-size="9.8" fill="#000" stroke="#000" stroke-width="0.3" textLength="4.9" lengthAdjust="spacingAndGlyphs">0</text>
<rect x="5" y="825" width="1" height="3" fill="#000"/>
<text x="4" y="837" font-size="9.8" fill="#000" stroke="#000" stroke-width="0.3" textLength="52.3" lengthAdjust="spacingAndGlyphs">28 Mar 2023</text>
<rect x="69" y="825" width="1" height="3" fill="#000"/>
<text x="68" y="837" font-size="9.8" fill="#000" stroke="#000" stroke-width="0.3" textLength="54.9" lengthAdjust="spacingAndGlyphs">29 Mar 00:00</text>
<rect x="133" y="825" width="1" height="3" fill="#000"/>
<text x="132" y="837" font-size="9.8" fill="#000" stroke="#000" stroke-width="0.3" textLength="54.9" lengthAdjust="spacingAndGlyphs">29 Mar 16:00</text>
<rect x="197" y="825" width="1" height="3" fill="#000"/>
<text x="196" y="837" font-size="9.8" fill="#000" stroke="#000" stroke-width="0.3" textLength="54.9" lengthAdjust="spacingAndGlyphs">30 Mar 08:00</text>
<rect x="261" y="825" width="1" height="3" fill="#000"/>
<text x="260" y="837" font-size="9.8" fill="#000" stroke="#000" stroke-width="0.3" textLength="54.9" lengthAdjust="spacingAndGlyphs">31 Mar 00:00</text>
<rect x="325" y="825" width="1" height="3" fill="#000"/>
<text x="324" y="837" font-size="9.8" fill="#000" stroke="#000" stroke-width="0.3" textLength="54.9" lengthAdjust="spacingAndGlyphs">31 Mar 16:00</text>
<rect x="389" y="825" width="1" height="3" fill="#000"/>
<text x="388" y="837" font-size="9.8" fill="#000" stroke="#000" stroke-width="0.3" textLength="47.6" lengthAdjust="spacingAndGlyphs">3 Apr 08:00</text>
<rect x="453" y="825" width="1" height="3" fill="#000"/>
<text x="452" y="837" font-size="9.8" fill="#000" stroke="#000" stroke-width="0.3" textLength="47.6" lengthAdjust="spacingAndGlyphs">4 Apr 00:00</text>
<rect x="517" y="825" width="1" height="3" fill="#000"/>
<text x="516" y="837" font-size="9.8" fill="#000" stroke="#000" stroke-width="0.3" textLength="47.6" lengthAdjust="spacingAndGlyphs">4 Apr 16:00</text>
<rect x="581" y="825" width="1" height="3" fill="#000"/>
<text x="580" y="837" font-size="9.8" fill="#000" stroke="#000" stroke-width="0.3" textLength="47.6" lengthAdjust="spacingAndGlyphs">5 Apr 08:00</text>
<rect x="645" y="825" width="1" height="3" fill="#000"/>
<text x="644" y="837" font-size="9.8" fill="#000" stroke="#000" stroke-width="0.3" textLength="47.6" lengthAdjust="spacingAndGlyphs">6 Apr 00:00</text>
<rect x="709" y="825" width="1" height="3" fill="#000"/>
<text x="708" y="837" font-size="9.8" fill="#000" stroke="#000" stroke-width="0.3" textLength="47.6" lengthAdjust="spacingAndGlyphs">6 Apr 16:00</text>
<rect x="773" y="825" width="1" height="3" fill="#000"/>
<text x="772" y="837" font-size="9.8" fill="#000" stroke="#000" stroke-width="0.3" textLength="47.6" lengthAdjust="spacingAndGlyphs">7 Apr 08:00</text>
<rect x="837" y="825" width="1" height="3" fill="#000"/>
<text x="836" y="837" font-size="9.8" fill="#000" stroke="#000" stroke-width="0.3" textLength="52.8" lengthAdjust="spacingAndGlyphs">10 Apr 00:00</text>
<rect x="901" y="825" width="1" height="3" fill="#000"/>
<text x="900" y="837" font-size="9.8" fill="#000" stroke="#000" stroke-width="0.3" textLength="52.8" lengthAdjust="spacingAndGlyphs">10 Apr 16:00</text>
<rect x="965" y="825" width="1" height="3" fill="#000"/>
<text x="964" y="837" font-size="9.8" fill="#000" stroke="#000" stroke-width="0.3" textLength="52.1" lengthAdjust="spacingAndGlyphs">11 Apr 08:00</text>
<rect x="1029" y="825" width="1" height="3" fill="#000"/>
<text x="1028" y="837" font-size="9.8" fill="#000" stroke="#000" stroke-width="0.3" textLength="52.8" lengthAdjust="spacingAndGlyphs">12 Apr 00:00</text>
<rect x="1093" y="825" width="1" height="3" fill="#000"/>
<text x="1092" y="837" font-size="9.8" fill="#000" stroke="#000" stroke-width="0.3" textLength="52.8" lengthAdjust="spacingAndGlyphs">12 Apr 16:00</text>
<rect x="1157" y="825" width="1" height="3" fill="#000"/>
<text x="1156" y="837" font-size="9.8" fill="#000" stroke="#000" stroke-width="0.3" textLength="52.8" lengthAdjust="spacingAndGlyphs">13 Apr 08:00</text>
<rect x="1221" y="825" width="1" height="3" fill="#000"/>
<text x="1220" y="837" font-size="9.8" fill="#000" stroke="#000" stroke-width="0.3" textLength="52.8" lengthAdjust="spacingAndGlyphs">14 Apr 00:00</text>
<rect x="1285" y="825" width="1" height="3" fill="#000"/>
<text x="1284" y="837" font-size="9.8" fill="#000" stroke="#000" stroke-width="0.3" textLength="52.8" lengthAdjust="spacingAndGlyphs">14 Apr 16:00</text>
<g shape-rendering="geometricPrecision">
<rect x="5" y="1" width="1" height="21" fill="#a0a0a0"/><rect x="6" y="1" width="1" height="21" fill="#f8f8f8"/>
<path d="M15.5,5.5 Q15.5,4.5 16.5,4.5 H23.5 L26.5,7.5 V16.5 Q26.5,17.5 25.5,17.5 H16.5 Q15.5,17.5 15.5,16.5 Z" fill="#ffffff" stroke="#8a8a8a"/>
<path d="M23.5,4.5 V7.5 H26.5" fill="none" stroke="#9a9a9a"/>
<path d="M17.5,7 H20 M17.5,9.5 H24 M17.5,11.5 H22 M17.5,13.5 H20" stroke="#a8a8a8" stroke-width="1" fill="none"/>
<path d="M23,10.5 H27 V14 H30.5 V18 H27 V21.5 H23 V18 H19.5 V14 H23 Z" fill="#1fc01f" stroke="#0a8c0a" stroke-width="0.8"/>
<path d="M23.8,11.3 H26.2 V14.8 H29.7 V15.6 H20.3 V14.8 H23.8 Z" fill="#7bea7b" opacity="0.8"/>
<text x="33.8" y="15.1" font-size="12.6" fill="#000" stroke="#000" stroke-width="0.2" textLength="36.6" lengthAdjust="spacingAndGlyphs">新订单</text>
<path d="M82,13 L89,5.5 L98,10 L97.5,13.5 L90.5,20 L82.5,15 Z" fill="#b8821a"/>
<path d="M82.5,12.5 L89.3,5.5 L97.5,10 L90.5,17.5 Z" fill="#e8b52e"/>
<path d="M84.5,12.3 L89.6,7 L95.5,10.2 L90.3,15.5 Z" fill="#f5d560"/>
<path d="M90.5,17.5 L97.5,10.5 L97.5,13.5 L90.5,20 Z" fill="#d9b56a"/>
<path d="M112,5 L119,4 L123,5.5 V14 H112 Z" fill="#2f8fe0"/>
<path d="M112.5,5.5 L116,5 V14 H112.5 Z" fill="#8fd0fa"/>
<path d="M117,7 H122 M117,9.5 H122" stroke="#d8efff" stroke-width="1.2"/>
<path d="M112,19.5 Q110,19.5 110,17 Q110,14.5 113,14.5 Q114,12 117,12.5 Q119,11.5 121,14 Q126,13.5 126,17 Q126,19.5 123.5,19.5 Z" fill="#e4ecf8" stroke="#7f9cc8" stroke-width="0.9"/>
<circle cx="146" cy="12" r="7.6" fill="#eef3fa" stroke="#b7c6e0" stroke-width="0.8"/>
<circle cx="146" cy="12" r="5.6" fill="none" stroke="#5d8ad6" stroke-width="1.1"/>
<circle cx="146" cy="12" r="3.3" fill="none" stroke="#6a96dc" stroke-width="1"/>
<path d="M146,12 L153.2,14 A7.6,7.6 0 0 1 146,19.6 Z" fill="#7cc47c" opacity="0.85"/>
<rect x="145.5" y="12" width="1.4" height="8" fill="#2f9a2f"/>
<circle cx="146" cy="11.5" r="1.5" fill="#2a5bd0"/>
<path d="M165.5,11.5 L181,10.5 L180.5,14 L173,19.8 L171.5,19.5 Z" fill="#f6d84a" stroke="#d4a017" stroke-width="0.8"/>
<path d="M167.5,12.5 L176,12 L172.5,18 Z" fill="#fbf08a"/>
<ellipse cx="173" cy="8.8" rx="7.8" ry="3" fill="#4fa3d8" stroke="#2f86bd" stroke-width="0.6" transform="rotate(-6 173 8.8)"/>
<path d="M169,8 Q169.5,3.8 173.5,4 Q177.3,4.2 178,8 Q173.5,9.6 169,8 Z" fill="#7fc4ee"/>
<circle cx="177.5" cy="16" r="4.2" fill="#dc2a1a"/>
<rect x="175.9" y="14.4" width="3.2" height="3.2" fill="#fff"/>
<text x="186.6" y="15.1" font-size="12.6" fill="#000" stroke="#000" stroke-width="0.2" textLength="46.8" lengthAdjust="spacingAndGlyphs">自动交易</text>
</g>
<rect x="241" y="0" width="1" height="24" fill="#a0a0a0"/><rect x="242" y="0" width="1" height="24" fill="#fafafa"/>
<rect x="245" y="2" width="3" height="1" fill="#b4b4b4"/>
<rect x="245" y="4" width="3" height="1" fill="#b4b4b4"/>
<rect x="245" y="6" width="3" height="1" fill="#b4b4b4"/>
<rect x="245" y="8" width="3" height="1" fill="#b4b4b4"/>
<rect x="245" y="10" width="3" height="1" fill="#b4b4b4"/>
<rect x="245" y="12" width="3" height="1" fill="#b4b4b4"/>
<rect x="245" y="14" width="3" height="1" fill="#b4b4b4"/>
<rect x="245" y="16" width="3" height="1" fill="#b4b4b4"/>
<rect x="245" y="18" width="3" height="1" fill="#b4b4b4"/>
<rect x="245" y="20" width="3" height="1" fill="#b4b4b4"/>
<g shape-rendering="geometricPrecision">
<g stroke="#555" stroke-width="1.1" fill="none"><path d="M259.5,7 V20 M257,17.5 H269.5"/></g>
<polygon points="259.5,5.6 257.8,8.2 261.2,8.2" fill="#555"/><polygon points="271.2,17.5 268.6,15.8 268.6,19.2" fill="#555"/>
<path d="M264.5,7.5 V15.5 M264.5,8.5 H267 M262,14.5 H264.5" stroke="#1c9a1c" stroke-width="1.3" fill="none"/>
</g>
<rect x="279" y="0" width="25" height="22" fill="url(#chk)"/>
<rect x="279" y="0" width="1" height="22" fill="#a0a0a0"/><rect x="279" y="0" width="25" height="1" fill="#a0a0a0"/>
<rect x="303" y="1" width="1" height="21" fill="#fff"/><rect x="280" y="21" width="24" height="1" fill="#fff"/>
<g shape-rendering="geometricPrecision">
<g stroke="#555" stroke-width="1.1" fill="none"><path d="M287.5,7 V20 M285,17.5 H297.5"/></g>
<polygon points="287.5,5.6 285.8,8.2 289.2,8.2" fill="#555"/><polygon points="299.2,17.5 296.6,15.8 296.6,19.2" fill="#555"/>
<path d="M293.5,4.5 V16" stroke="#0a7a0a" stroke-width="1"/><rect x="291.5" y="6.5" width="4" height="7" fill="#3fe43f" stroke="#0a9a0a" stroke-width="1"/><rect x="292.6" y="7.6" width="1.6" height="4.8" fill="#8cf58c"/>
<g stroke="#555" stroke-width="1.1" fill="none"><path d="M315.5,7 V20 M313,17.5 H325.5"/></g>
<polygon points="315.5,5.6 313.8,8.2 317.2,8.2" fill="#555"/><polygon points="327.2,17.5 324.6,15.8 324.6,19.2" fill="#555"/>
<path d="M314.2,14.6 Q317.5,9 320.2,9.4 Q322.5,9.8 325.8,13.3" stroke="#2aa02a" stroke-width="1.1" fill="none"/>
</g>
<rect x="336" y="1" width="1" height="21" fill="#a0a0a0"/><rect x="337" y="1" width="1" height="21" fill="#f8f8f8"/>
<g shape-rendering="geometricPrecision">
<path d="M354,13 L360,19" stroke="#b88610" stroke-width="3.2" stroke-linecap="butt"/>
<path d="M354.2,13.2 L359.6,18.6" stroke="#f2d24a" stroke-width="1.6" stroke-linecap="butt"/>
<circle cx="351" cy="10" r="5.4" fill="#d4eefb" stroke="#2f80c8" stroke-width="1.2"/>
<path d="M348.2,10 H353.8" stroke="#4a90b8" stroke-width="1.7"/>
<path d="M351,7.2 V12.8" stroke="#4a90b8" stroke-width="1.7"/>
<path d="M382,13 L388,19" stroke="#b88610" stroke-width="3.2" stroke-linecap="butt"/>
<path d="M382.2,13.2 L387.6,18.6" stroke="#f2d24a" stroke-width="1.6" stroke-linecap="butt"/>
<circle cx="379" cy="10" r="5.4" fill="#d4eefb" stroke="#2f80c8" stroke-width="1.2"/>
<path d="M376.2,10 H381.8" stroke="#4a90b8" stroke-width="1.7"/>
<g shape-rendering="crispEdges"><rect x="401" y="4" width="8" height="8" fill="#3a9a10"/><rect x="401" y="4" width="8" height="2" fill="#2f8a08"/>
<rect x="402" y="5" width="1" height="1" fill="#a8dc88"/>
<rect x="402" y="7" width="6" height="4" fill="#fff"/><rect x="403" y="8" width="4" height="1" fill="#a8dc88"/><rect x="403" y="10" width="4" height="1" fill="#3a9a10"/></g>
<g shape-rendering="crispEdges"><rect x="409" y="4" width="8" height="8" fill="#2a5fe0"/><rect x="409" y="4" width="8" height="2" fill="#0f3fc0"/>
<rect x="410" y="5" width="1" height="1" fill="#9ab8f4"/>
<rect x="410" y="7" width="6" height="4" fill="#fff"/><rect x="411" y="8" width="4" height="1" fill="#9ab8f4"/><rect x="411" y="10" width="4" height="1" fill="#2a5fe0"/></g>
<g shape-rendering="crispEdges"><rect x="401" y="12" width="8" height="8" fill="#2a5fe0"/><rect x="401" y="12" width="8" height="2" fill="#0f3fc0"/>
<rect x="402" y="13" width="1" height="1" fill="#9ab8f4"/>
<rect x="402" y="15" width="6" height="4" fill="#fff"/><rect x="403" y="16" width="4" height="1" fill="#9ab8f4"/><rect x="403" y="18" width="4" height="1" fill="#2a5fe0"/></g>
<g shape-rendering="crispEdges"><rect x="409" y="12" width="8" height="8" fill="#3a9a10"/><rect x="409" y="12" width="8" height="2" fill="#2f8a08"/>
<rect x="410" y="13" width="1" height="1" fill="#a8dc88"/>
<rect x="410" y="15" width="6" height="4" fill="#fff"/><rect x="411" y="16" width="4" height="1" fill="#a8dc88"/><rect x="411" y="18" width="4" height="1" fill="#3a9a10"/></g>
</g>
<rect x="426" y="1" width="1" height="21" fill="#a0a0a0"/><rect x="427" y="1" width="1" height="21" fill="#f8f8f8"/>
<rect x="431" y="0" width="25" height="22" fill="url(#chk)"/>
<rect x="431" y="0" width="1" height="22" fill="#a0a0a0"/><rect x="431" y="0" width="25" height="1" fill="#a0a0a0"/>
<rect x="455" y="1" width="1" height="21" fill="#fff"/><rect x="432" y="21" width="24" height="1" fill="#fff"/>
<rect x="459" y="0" width="25" height="22" fill="url(#chk)"/>
<rect x="459" y="0" width="1" height="22" fill="#a0a0a0"/><rect x="459" y="0" width="25" height="1" fill="#a0a0a0"/>
<rect x="483" y="1" width="1" height="21" fill="#fff"/><rect x="460" y="21" width="24" height="1" fill="#fff"/>
<g shape-rendering="geometricPrecision">
<g stroke="#555" stroke-width="1.1" fill="none"><path d="M439.5,7 V20 M437,17.5 H449.5"/></g>
<polygon points="439.5,5.6 437.8,8.2 441.2,8.2" fill="#555"/><polygon points="451.2,17.5 448.6,15.8 448.6,19.2" fill="#555"/>
<path d="M444.5,8.5 L447.5,11.5 L444.5,14.5 Z" fill="#d8f8d8" stroke="#1c9a1c" stroke-width="1.1"/>
<g stroke="#555" stroke-width="1.1" fill="none"><path d="M467.5,7 V20 M465,17.5 H477.5"/></g>
<polygon points="467.5,5.6 465.8,8.2 469.2,8.2" fill="#555"/><polygon points="479.2,17.5 476.6,15.8 476.6,19.2" fill="#555"/>
<path d="M473.5,6 V16" stroke="#2f6fc4" stroke-width="1.2"/><path d="M479,11.5 H475 M477,9.3 L474.6,11.5 L477,13.7 Z" stroke="#d03a10" stroke-width="1" fill="#d03a10"/>
</g>
<rect x="488" y="1" width="1" height="21" fill="#a0a0a0"/><rect x="489" y="1" width="1" height="21" fill="#f8f8f8"/>
<g shape-rendering="geometricPrecision">
<path d="M498.5,5.5 Q498.5,4.5 499.5,4.5 H506.5 L509.5,7.5 V16.5 Q509.5,17.5 508.5,17.5 H499.5 Q498.5,17.5 498.5,16.5 Z" fill="#ffffff" stroke="#8a8a8a"/>
<path d="M506.5,4.5 V7.5 H509.5" fill="none" stroke="#9a9a9a"/>
<path d="M504.5,7.5 Q502.5,7 502.5,9 V15 M501,10.5 H504.5" stroke="#666" stroke-width="1" fill="none"/>
<path d="M506,10.5 H510 V14 H513.5 V18 H510 V21.5 H506 V18 H502.5 V14 H506 Z" fill="#1fc01f" stroke="#0a8c0a" stroke-width="0.8"/>
<path d="M506.8,11.3 H509.2 V14.8 H512.7 V15.6 H503.3 V14.8 H506.8 Z" fill="#7bea7b" opacity="0.8"/>
<polygon points="519.8,10.8 525.6,10.8 522.7,14" fill="#000"/>
<defs><linearGradient id="ck" x1="0" y1="0" x2="1" y2="1"><stop offset="0" stop-color="#3f9af4"/><stop offset="1" stop-color="#0c44b0"/></linearGradient></defs><circle cx="544" cy="12" r="7.8" fill="url(#ck)"/>
<circle cx="544" cy="11.6" r="5.4" fill="#f4f7fb"/>
<path d="M543.5,8 V12.5 H547" stroke="#444" stroke-width="1.1" fill="none"/>
<path d="M538.5,7.5 Q544,2.5 549.5,7.5" stroke="#7fb4f4" stroke-width="1" fill="none"/>
<polygon points="558.8,10.8 564.6,10.8 561.7,14" fill="#000"/>
<rect x="575.5" y="5.5" width="15" height="13" fill="#fdfdfd" stroke="#3f78cc" stroke-width="1"/>
<rect x="575" y="5" width="16" height="2.6" fill="#3f7fd8"/><rect x="576" y="6" width="5" height="1" fill="#9fc4f4"/>
<path d="M575.5,13.5 H590.5" stroke="#3f78cc" stroke-width="1"/>
<path d="M577,11.5 H579.5 L580.5,10.5 H582 L583,11.5 H585 L586,10 H589" stroke="#a82412" stroke-width="1.1" fill="none"/>
<path d="M578,16.5 H580 L581,15.5 H582.5 L583.5,16.5 L585.5,14.5 H586.5 L588.5,16.5" stroke="#128a22" stroke-width="1.1" fill="none"/>
<polygon points="597.8,10.8 603.6,10.8 600.7,14" fill="#000"/>
</g>
<rect x="609" y="0" width="1" height="24" fill="#a0a0a0"/><rect x="610" y="0" width="1" height="24" fill="#fafafa"/>
<rect x="613" y="2" width="3" height="1" fill="#b4b4b4"/>
<rect x="613" y="4" width="3" height="1" fill="#b4b4b4"/>
<rect x="613" y="6" width="3" height="1" fill="#b4b4b4"/>
<rect x="613" y="8" width="3" height="1" fill="#b4b4b4"/>
<rect x="613" y="10" width="3" height="1" fill="#b4b4b4"/>
<rect x="613" y="12" width="3" height="1" fill="#b4b4b4"/>
<rect x="613" y="14" width="3" height="1" fill="#b4b4b4"/>
<rect x="613" y="16" width="3" height="1" fill="#b4b4b4"/>
<rect x="613" y="18" width="3" height="1" fill="#b4b4b4"/>
<rect x="613" y="20" width="3" height="1" fill="#b4b4b4"/>
<rect x="619" y="0" width="25" height="22" fill="url(#chk)"/>
<rect x="619" y="0" width="1" height="22" fill="#a0a0a0"/><rect x="619" y="0" width="25" height="1" fill="#a0a0a0"/>
<rect x="643" y="1" width="1" height="21" fill="#fff"/><rect x="620" y="21" width="24" height="1" fill="#fff"/>
<g shape-rendering="geometricPrecision">
<path d="M627,4.8 V17 L630,14.3 L632.3,19.2 L634.2,18.3 L632,13.5 L635.6,13.2 Z" fill="#4a4a4a"/>
<path d="M659.5,5 V20 M652,12.5 H667" stroke="#444" stroke-width="1" fill="none"/>
</g>
<rect x="676" y="1" width="1" height="21" fill="#a0a0a0"/><rect x="677" y="1" width="1" height="21" fill="#f8f8f8"/>
<g shape-rendering="geometricPrecision">
<path d="M693.5,6 V19" stroke="#444" stroke-width="1.2"/>
<path d="M716,12.5 H728" stroke="#444" stroke-width="1.2"/>
<path d="M744,19 L756,7" stroke="#444" stroke-width="1.1"/>
<path d="M770,13.6 L778,6 M771.5,17.5 L784,7.5 M775,19 L784.5,10.5" stroke="#505050" stroke-width="0.9" fill="none"/>
<path d="M772,17 L773.5,11.5 L775.5,15 L777,10 L779,13.5 L780.5,8.5 L782,11.5 L782,4.5" stroke="#404040" stroke-width="1" fill="none"/>
<text x="781" y="21" font-size="6.5" font-weight="bold" fill="#333">E</text>
<g shape-rendering="crispEdges" fill="#505050"><rect x="799" y="5" width="1" height="1"/><rect x="801" y="5" width="1" height="1"/><rect x="803" y="5" width="1" height="1"/><rect x="805" y="5" width="1" height="1"/><rect x="807" y="5" width="1" height="1"/><rect x="809" y="5" width="1" height="1"/><rect x="811" y="5" width="1" height="1"/></g>
<g shape-rendering="crispEdges" fill="#505050"><rect x="799" y="8" width="1" height="1"/><rect x="801" y="8" width="1" height="1"/><rect x="803" y="8" width="1" height="1"/><rect x="805" y="8" width="1" height="1"/><rect x="807" y="8" width="1" height="1"/><rect x="809" y="8" width="1" height="1"/><rect x="811" y="8" width="1" height="1"/></g>
<g shape-rendering="crispEdges" fill="#505050"><rect x="799" y="12" width="1" height="1"/><rect x="801" y="12" width="1" height="1"/><rect x="803" y="12" width="1" height="1"/><rect x="805" y="12" width="1" height="1"/><rect x="807" y="12" width="1" height="1"/><rect x="809" y="12" width="1" height="1"/><rect x="811" y="12" width="1" height="1"/></g>
<g shape-rendering="crispEdges" fill="#505050"><rect x="799" y="16" width="1" height="1"/><rect x="801" y="16" width="1" height="1"/><rect x="803" y="16" width="1" height="1"/><rect x="805" y="16" width="1" height="1"/><rect x="807" y="16" width="1" height="1"/></g>
<text x="809" y="21" font-size="6.5" font-weight="bold" fill="#333">F</text>
<text x="829.7" y="17" font-size="12.2" fill="#484848" stroke="#484848" stroke-width="0.5" textLength="7.8" lengthAdjust="spacingAndGlyphs">A</text>
<g shape-rendering="crispEdges" fill="#505050"><rect x="856" y="6" width="1" height="1"/><rect x="856" y="18" width="1" height="1"/><rect x="858" y="6" width="1" height="1"/><rect x="858" y="18" width="1" height="1"/><rect x="860" y="6" width="1" height="1"/><rect x="860" y="18" width="1" height="1"/><rect x="862" y="6" width="1" height="1"/><rect x="862" y="18" width="1" height="1"/><rect x="864" y="6" width="1" height="1"/><rect x="864" y="18" width="1" height="1"/><rect x="866" y="6" width="1" height="1"/><rect x="866" y="18" width="1" height="1"/><rect x="868" y="6" width="1" height="1"/><rect x="868" y="18" width="1" height="1"/><rect x="856" y="6" width="1" height="1"/><rect x="868" y="6" width="1" height="1"/><rect x="856" y="8" width="1" height="1"/><rect x="868" y="8" width="1" height="1"/><rect x="856" y="10" width="1" height="1"/><rect x="868" y="10" width="1" height="1"/><rect x="856" y="12" width="1" height="1"/><rect x="868" y="12" width="1" height="1"/><rect x="856" y="14" width="1" height="1"/><rect x="868" y="14" width="1" height="1"/><rect x="856" y="16" width="1" height="1"/><rect x="868" y="16" width="1" height="1"/><rect x="856" y="18" width="1" height="1"/><rect x="868" y="18" width="1" height="1"/></g>
<rect x="855" y="5" width="3" height="1.5" fill="#444"/>
<text x="858.2" y="16.6" font-size="10.5" fill="#484848" stroke="#484848" stroke-width="0.5" textLength="8" lengthAdjust="spacingAndGlyphs">T</text>
<path d="M883,9 L886.5,5.6 L890,9 L888,10.4 L885,10.4 Z" fill="#404040"/>
<path d="M890,15.5 L892,14.2 L895,14.2 L897,15.5 L893.5,19 Z" fill="#404040"/>
<path d="M885.8,12.5 L888,14.8 L891.8,10.2" stroke="#404040" stroke-width="1.3" fill="none"/>
<polygon points="903.8,10.8 909.6,10.8 906.7,14" fill="#000"/>
</g>
<rect x="915" y="0" width="1" height="24" fill="#a0a0a0"/><rect x="916" y="0" width="1" height="24" fill="#fafafa"/>
<rect x="919" y="2" width="3" height="1" fill="#b4b4b4"/>
<rect x="919" y="4" width="3" height="1" fill="#b4b4b4"/>
<rect x="919" y="6" width="3" height="1" fill="#b4b4b4"/>
<rect x="919" y="8" width="3" height="1" fill="#b4b4b4"/>
<rect x="919" y="10" width="3" height="1" fill="#b4b4b4"/>
<rect x="919" y="12" width="3" height="1" fill="#b4b4b4"/>
<rect x="919" y="14" width="3" height="1" fill="#b4b4b4"/>
<rect x="919" y="16" width="3" height="1" fill="#b4b4b4"/>
<rect x="919" y="18" width="3" height="1" fill="#b4b4b4"/>
<rect x="919" y="20" width="3" height="1" fill="#b4b4b4"/>
<rect x="1065" y="0" width="25" height="22" fill="url(#chk)"/>
<rect x="1065" y="0" width="1" height="22" fill="#a0a0a0"/><rect x="1065" y="0" width="25" height="1" fill="#a0a0a0"/>
<rect x="1089" y="1" width="1" height="21" fill="#fff"/><rect x="1066" y="21" width="24" height="1" fill="#fff"/>
<text x="929.9" y="16" font-size="9.8" fill="#303030" stroke="#303030" stroke-width="0.25" textLength="13.9" lengthAdjust="spacingAndGlyphs">M1</text>
<text x="957.9" y="16" font-size="9.8" fill="#303030" stroke="#303030" stroke-width="0.25" textLength="14.1" lengthAdjust="spacingAndGlyphs">M5</text>
<text x="984.0" y="16" font-size="9.8" fill="#303030" stroke="#303030" stroke-width="0.25" textLength="18.6" lengthAdjust="spacingAndGlyphs">M15</text>
<text x="1012.1999999999999" y="16" font-size="9.8" fill="#303030" stroke="#303030" stroke-width="0.25" textLength="18.7" lengthAdjust="spacingAndGlyphs">M30</text>
<text x="1043.1000000000001" y="16" font-size="9.8" fill="#303030" stroke="#303030" stroke-width="0.25" textLength="12.5" lengthAdjust="spacingAndGlyphs">H1</text>
<text x="1070.0" y="16" font-size="9.8" fill="#303030" stroke="#303030" stroke-width="0.25" textLength="13.6" lengthAdjust="spacingAndGlyphs">H4</text>
<text x="1098.9" y="16" font-size="9.8" fill="#303030" stroke="#303030" stroke-width="0.25" textLength="13.1" lengthAdjust="spacingAndGlyphs">D1</text>
<text x="1126.4" y="16" font-size="9.8" fill="#303030" stroke="#303030" stroke-width="0.25" textLength="15.6" lengthAdjust="spacingAndGlyphs">W1</text>
<text x="1153.1000000000001" y="16" font-size="9.8" fill="#303030" stroke="#303030" stroke-width="0.25" textLength="15.9" lengthAdjust="spacingAndGlyphs">MN</text>
<rect x="1176" y="0" width="1" height="24" fill="#a0a0a0"/><rect x="1177" y="0" width="1" height="24" fill="#fafafa"/>
<g shape-rendering="geometricPrecision">
<path d="M1643.3,12.4 L1639.6,16.4" stroke="#2a55c8" stroke-width="2.4" stroke-linecap="round"/>
<circle cx="1646.6" cy="9.3" r="3.6" fill="#f4f6fb" stroke="#2a5fd8" stroke-width="1.3"/>
<path d="M1664,14 Q1664,9.5 1669.5,9.5 Q1675,9.5 1675,14 Q1675,18 1669.5,18.3 L1667.5,18.3 L1666.5,20.6 L1666,18 Q1664,17 1664,14 Z" fill="#e2e4ea" stroke="#a8a8a8" stroke-width="0.8"/>
<defs><linearGradient id="bg1" x1="0" y1="0" x2="0" y2="1"><stop offset="0" stop-color="#ea5232"/><stop offset="1" stop-color="#d41c0e"/></linearGradient></defs>
<circle cx="1677.6" cy="9.4" r="8.1" fill="url(#bg1)"/>
<text x="1676.6" y="13.8" font-size="12.5" fill="#fff" text-anchor="middle">1</text>
</g>
</svg>
</body></html>
